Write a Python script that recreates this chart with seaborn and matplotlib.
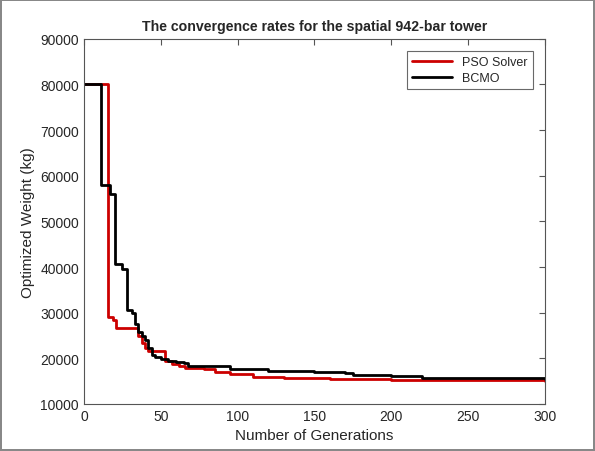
import pandas as pd
import matplotlib.pyplot as plt
import seaborn as sns

# -----------------------------
# Data
# -----------------------------
pso_gen = [0, 16, 19, 21, 32, 35, 38, 40, 42, 51, 53, 57, 62, 66, 78, 85, 95,
           110, 130, 160, 200, 250, 300]
pso_weight = [80000, 29000, 28300, 26600, 26600, 24900, 23300, 22300, 21600, 21600,
              19500, 18800, 18300, 17800, 17700, 17000, 16500, 16000, 15700, 15500, 15300,
              15200, 15000]

bcmo_gen = [0, 11, 17, 20, 25, 28, 31, 33, 35, 38, 40, 42, 44, 46, 50, 55,
            60, 65, 68, 90, 95, 120, 150, 170, 175, 200, 220, 250, 300]
bcmo_weight = [80000, 58000, 56000, 40700, 39500, 30600, 30000, 27500, 25800,
               24800, 24000, 22200, 20800, 20200, 19900, 19500, 19200, 19000, 18300, 18300,
               17600, 17300, 16900, 16800, 16400, 16200, 15800, 15600, 15500]

df = pd.concat([
    pd.DataFrame({"gen": pso_gen, "weight": pso_weight, "method": "PSO Solver"}),
    pd.DataFrame({"gen": bcmo_gen, "weight": bcmo_weight, "method": "BCMO"}),
])

# -----------------------------
# Plot
# -----------------------------
sns.set_style("white")
plt.rcParams['font.family'] = ['Liberation Sans', 'DejaVu Sans']

fig = plt.figure(figsize=(5.95, 4.52), dpi=100)
fig.patch.set_edgecolor("#888888")
fig.patch.set_linewidth(1.5)
ax = fig.add_axes([0.141, 0.104, 0.775, 0.808])

sns.lineplot(data=df, x="gen", y="weight", hue="method",
             palette={"PSO Solver": "#cc0000", "BCMO": "black"},
             drawstyle="steps-post", linewidth=2, ax=ax, estimator=None)

ax.set_xlim(0, 300)
ax.set_ylim(10000, 90000)
ax.set_xticks(range(0, 301, 50))
ax.set_yticks(range(10000, 90001, 10000))
ax.tick_params(direction="in", length=4, labelsize=10, top=True, right=True,
               color="#555555")
for s in ax.spines.values():
    s.set_color("#555555")
    s.set_linewidth(0.8)

ax.set_title("The convergence rates for the spatial 942-bar tower",
             fontsize=10.2, fontweight="bold")
ax.set_xlabel("Number of Generations", fontsize=11)
ax.set_ylabel("Optimized Weight (kg)", fontsize=11)

leg = ax.legend(loc="upper right", fontsize=9, frameon=True, fancybox=False,
                borderaxespad=1.0, handlelength=3.2, labelspacing=0.3,
                borderpad=0.4)
leg.get_frame().set_edgecolor("#444444")
leg.get_frame().set_linewidth(0.8)

plt.savefig("out.png", dpi=100)
